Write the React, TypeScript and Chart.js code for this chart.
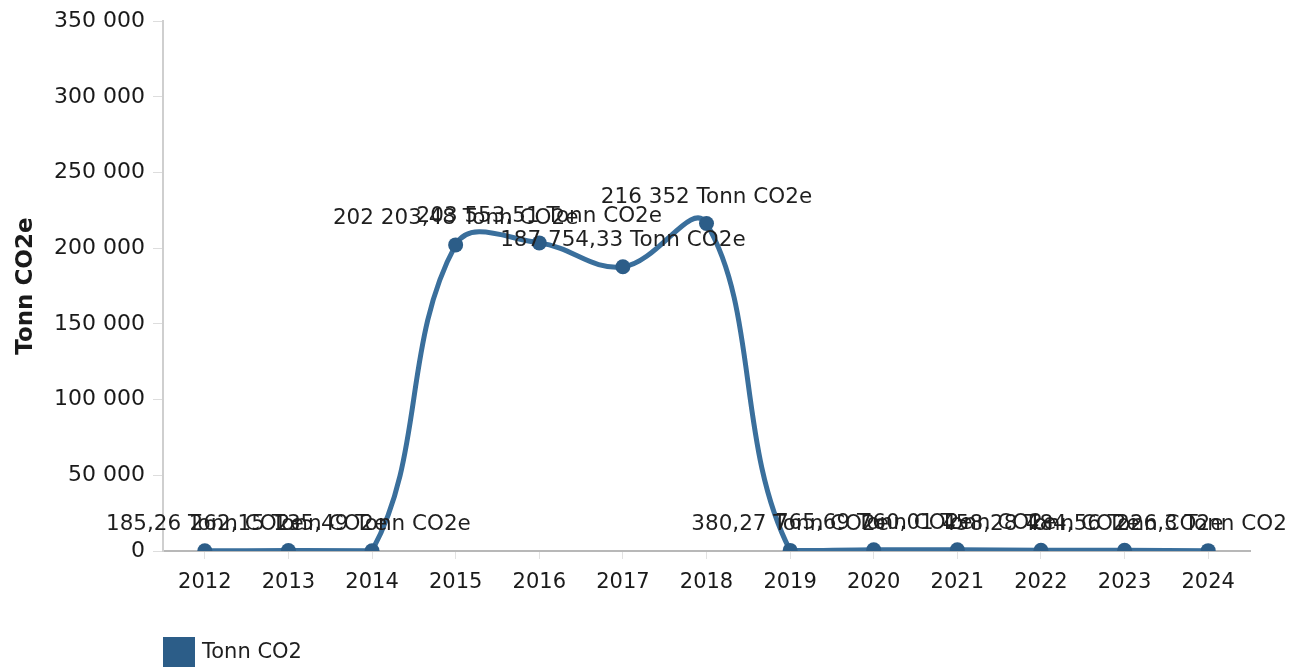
import React, { useEffect, useRef } from "react";
import { Chart, registerables } from "chart.js";

Chart.register(...registerables);

const categories = ["2012", "2013", "2014", "2015", "2016", "2017", "2018", "2019", "2020", "2021", "2022", "2023", "2024"];
const tonnValues = [185.26, 262.15, 135.49, 202203.48, 203553.51, 187754.33, 216352, 380.27, 765.69, 760.01, 458.28, 484.56, 226.3];
const seriesName = "Tonn CO2";
const unitLabel = "Tonn CO2e";
const yTitle = "Tonn CO2e";

const FONT = "'DejaVu Sans', Verdana, sans-serif";
const LINE_COLOR = "#3a6f9c";
const POINT_COLOR = "#2c5d88";

function groupThousands(intStr: string): string {
  return intStr.replace(/\B(?=(\d{3})+(?!\d))/g, " ");
}

function formatNo(v: number): string {
  const rounded = Math.round(v * 100) / 100;
  const [i, d] = rounded.toFixed(2).split(".");
  const dec = d.replace(/0+$/, "");
  return groupThousands(i) + (dec ? "," + dec : "");
}

const dataLabelPlugin = {
  id: "dataLabels",
  afterDatasetsDraw(chart: any) {
    const ctx = chart.ctx;
    const meta = chart.getDatasetMeta(0);
    ctx.save();
    ctx.beginPath();
    ctx.rect(0, 0, 1287, chart.height);
    ctx.clip();
    ctx.font = `21.5px ${FONT}`;
    ctx.fillStyle = "#1f1f1f";
    ctx.textAlign = "center";
    ctx.textBaseline = "middle";
    meta.data.forEach((pt: any, i: number) => {
      const v = chart.data.datasets[0].data[i] as number;
      ctx.fillText(`${formatNo(v)} ${unitLabel}`, pt.x, pt.y - 26);
    });
    ctx.restore();
  },
};

const legendPlugin = {
  id: "customLegend",
  afterDraw(chart: any) {
    const ctx = chart.ctx;
    ctx.save();
    ctx.fillStyle = POINT_COLOR;
    ctx.fillRect(163, 637, 32, 32);
    ctx.font = `21px ${FONT}`;
    ctx.fillStyle = "#1f1f1f";
    ctx.textAlign = "left";
    ctx.textBaseline = "middle";
    ctx.fillText(seriesName, 202, 653);
    ctx.restore();
  },
};

export default function App() {
  const canvasRef = useRef<HTMLCanvasElement | null>(null);

  useEffect(() => {
    if (!canvasRef.current) return;
    const chart = new Chart(canvasRef.current, {
      type: "line",
      data: {
        labels: categories,
        datasets: [
          {
            label: seriesName,
            data: tonnValues,
            borderColor: LINE_COLOR,
            backgroundColor: POINT_COLOR,
            borderWidth: 5,
            tension: 0.4,
            pointRadius: 7.5,
            pointBackgroundColor: POINT_COLOR,
            pointBorderColor: POINT_COLOR,
            pointBorderWidth: 0,
            fill: false,
          },
        ],
      },
      options: {
        animation: false,
        responsive: false,
        maintainAspectRatio: false,
        layout: { padding: { top: 20, right: 52, bottom: 0, left: 0 } },
        plugins: {
          legend: { display: false },
          tooltip: { enabled: false },
        },
        scales: {
          x: {
            offset: true,
            grid: {
              display: true,
              drawOnChartArea: false,
              drawTicks: true,
              tickLength: 8,
              color: "#e2e2e2",
              offset: false,
            },
            border: { color: "#b8b8b8", width: 2 },
            ticks: {
              font: { family: FONT, size: 21 },
              color: "#1a1a1a",
              padding: 11,
              maxRotation: 0,
            },
            afterFit(scale: any) {
              scale.height = 116;
            },
          },
          y: {
            min: 0,
            max: 350000,
            grid: {
              display: true,
              drawOnChartArea: false,
              drawTicks: true,
              tickLength: 10,
              color: "#dddddd",
            },
            border: { color: "#cfcfcf", width: 2 },
            ticks: {
              stepSize: 50000,
              font: { family: FONT, size: 22 },
              color: "#1a1a1a",
              padding: 8,
              callback: (v: any) => groupThousands(String(v)),
            },
            title: {
              display: true,
              text: yTitle,
              font: { family: FONT, size: 23, weight: "bold" },
              color: "#1a1a1a",
              padding: { top: 12, bottom: 0 },
            },
            afterFit(scale: any) {
              scale.width = 163;
            },
          },
        },
      },
      plugins: [dataLabelPlugin, legendPlugin],
    });
    return () => chart.destroy();
  }, []);

  return (
    <div style={{ position: "fixed", left: 0, top: 0, width: 1302, height: 667, background: "#fff" }}>
      <canvas ref={canvasRef} width={1302} height={667} style={{ width: 1302, height: 667, display: "block" }} />
    </div>
  );
}
